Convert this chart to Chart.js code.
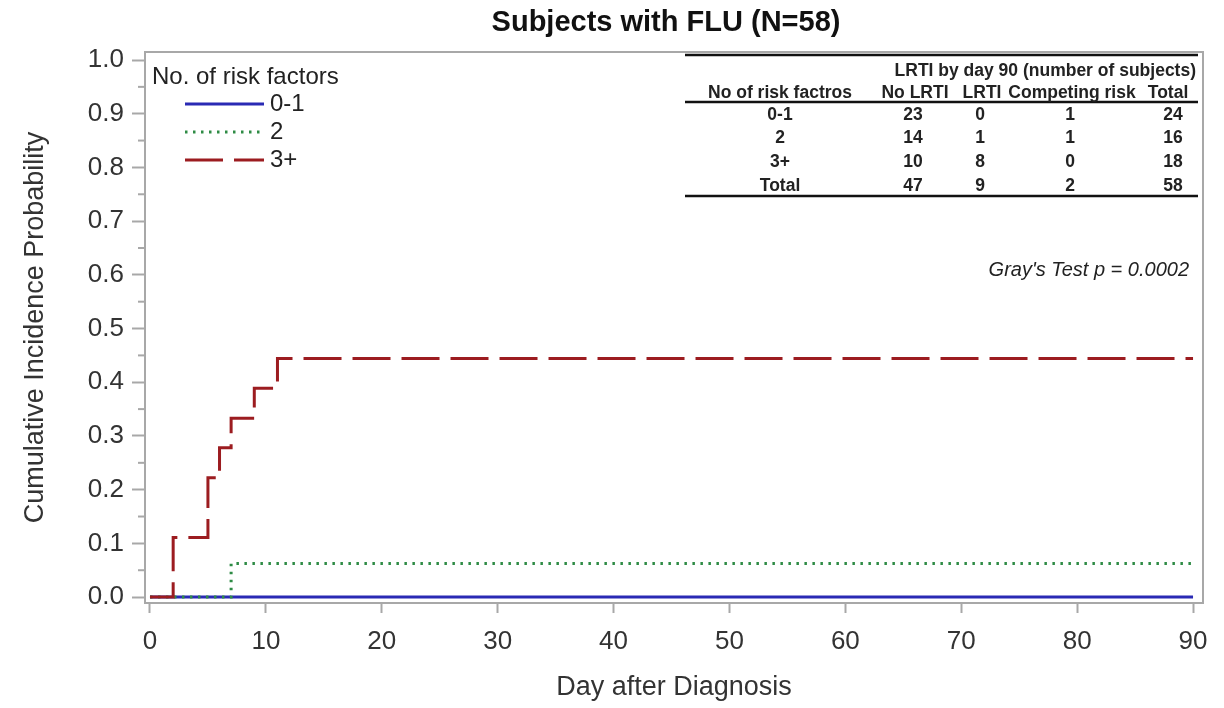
<!DOCTYPE html>
<html>
<head>
<meta charset="utf-8">
<script src="https://cdn.jsdelivr.net/npm/chart.js@4/dist/chart.umd.min.js"></script>
<style>
  body { margin: 0; background: #fff; }
  #wrap { width: 1224px; height: 708px; }
</style>
</head>
<body>
<div id="wrap"><canvas id="cif-chart" width="1224" height="708"></canvas></div>
<script>
// cumulative incidence step curves
var days01 = [0, 90];
var cif01 = [0, 0];
var days2 = [0, 7, 90];
var cif2 = [0, 0.0625, 0.0625];
var days3 = [0, 2, 5, 6, 7, 9, 11, 90];
var cif3 = [0, 0.111, 0.222, 0.278, 0.333, 0.389, 0.444, 0.444];

var xTicks = [0, 10, 20, 30, 40, 50, 60, 70, 80, 90];
var yTicks = [0.0, 0.1, 0.2, 0.3, 0.4, 0.5, 0.6, 0.7, 0.8, 0.9, 1.0];
var yMinorTicks = [0.05, 0.15, 0.25, 0.35, 0.45, 0.55, 0.65, 0.75, 0.85, 0.95];

var groups = ["0-1", "2", "3+"];

// summary table
var tableHead = ["No of risk factros", "No LRTI", "LRTI", "Competing risk", "Total"];
var tableRows = [
  ["0-1", "23", "0", "1", "24"],
  ["2", "14", "1", "1", "16"],
  ["3+", "10", "8", "0", "18"],
  ["Total", "47", "9", "2", "58"]
];

var frameColor = '#a8a8a8';
var textColor = '#333';
var fontName = '"Liberation Sans", Arial';
var colors = ['#2a2ab4', '#2e8b45', '#9c1c20'];
var dashes = [[], [2.5, 5.5], [38, 11]];

function toPoints(xs, ys) {
  return xs.map(function(x, i) { return { x: x, y: ys[i] }; });
}

var overlay = {
  id: 'overlay',
  afterDatasetsDraw: function(chart) {
    var ctx = chart.ctx;
    var a = chart.chartArea;
    var y = chart.scales.y;
    ctx.save();
    // frame
    ctx.strokeStyle = frameColor;
    ctx.lineWidth = 2;
    ctx.strokeRect(a.left, a.top, a.right - a.left, a.bottom - a.top);
    // minor y ticks
    yMinorTicks.forEach(function(v) {
      var py = y.getPixelForValue(v);
      ctx.beginPath();
      ctx.moveTo(a.left - 7, py);
      ctx.lineTo(a.left, py);
      ctx.stroke();
    });

    // title
    ctx.fillStyle = '#111';
    ctx.font = 'bold 29px ' + fontName;
    ctx.textAlign = 'center';
    ctx.textBaseline = 'middle';
    ctx.fillText('Subjects with FLU (N=58)', 666, 23);

    // legend
    ctx.fillStyle = '#222';
    ctx.font = '24px ' + fontName;
    ctx.textAlign = 'left';
    ctx.fillText('No. of risk factors', 152, 77);
    var legY = [104, 132, 160];
    groups.forEach(function(g, i) {
      ctx.strokeStyle = colors[i];
      ctx.lineWidth = 3;
      ctx.setLineDash(dashes[i]);
      ctx.beginPath();
      ctx.moveTo(185, legY[i]);
      ctx.lineTo(264, legY[i]);
      ctx.stroke();
      ctx.setLineDash([]);
      ctx.fillText(g, 270, legY[i]);
    });

    // table
    ctx.strokeStyle = '#111';
    ctx.lineWidth = 2.5;
    [55, 102, 196].forEach(function(ly) {
      ctx.beginPath();
      ctx.moveTo(685, ly);
      ctx.lineTo(1198, ly);
      ctx.stroke();
    });
    ctx.fillStyle = '#222';
    ctx.font = 'bold 17.5px ' + fontName;
    ctx.textAlign = 'right';
    ctx.fillText('LRTI by day 90 (number of subjects)', 1196, 71);
    var colX = [780, 915, 982, 1072, 1168];
    ctx.textAlign = 'center';
    tableHead.forEach(function(h, i) { ctx.fillText(h, colX[i], 93); });
    var numX = [780, 913, 980, 1070, 1173];
    var rowY = [115, 138, 162, 186];
    tableRows.forEach(function(r, j) {
      r.forEach(function(c, i) { ctx.fillText(c, numX[i], rowY[j]); });
    });

    // test result
    ctx.font = 'italic 20px ' + fontName;
    ctx.textAlign = 'right';
    ctx.fillText("Gray's Test p = 0.0002", 1189, 270);
    ctx.restore();
  }
};

var ctx = document.getElementById("cif-chart").getContext('2d');
var myChart = new Chart(ctx, {
  type: 'line',
  data: {
    datasets: [{
      label: groups[0],
      data: toPoints(days01, cif01),
      borderColor: colors[0],
      borderWidth: 3,
      order: 3
    }, {
      label: groups[1],
      data: toPoints(days2, cif2),
      borderColor: colors[1],
      borderWidth: 3,
      borderDash: dashes[1],
      order: 2
    }, {
      label: groups[2],
      data: toPoints(days3, cif3),
      borderColor: colors[2],
      borderWidth: 3,
      borderDash: dashes[2],
      order: 1
    }]
  },
  options: {
    responsive: false,
    animation: false,
    layout: { padding: { top: 52, right: 21, left: 0, bottom: 0 } },
    elements: {
      line: { stepped: 'before', fill: false, tension: 0 },
      point: { radius: 0, hoverRadius: 0 }
    },
    plugins: {
      legend: { display: false },
      tooltip: { enabled: false }
    },
    scales: {
      x: {
        type: 'linear',
        min: -0.43,
        max: 90.86,
        afterBuildTicks: function(scale) {
          scale.ticks = xTicks.map(function(v) { return { value: v }; });
        },
        afterFit: function(scale) { scale.height = 105; },
        grid: { drawOnChartArea: false, drawTicks: true, tickLength: 10, tickColor: frameColor, tickWidth: 2 },
        border: { display: false },
        ticks: {
          padding: 13,
          color: textColor,
          font: { family: fontName, size: 26 },
          maxRotation: 0,
          callback: function(v) { return String(v); }
        },
        title: {
          display: true,
          text: 'Day after Diagnosis',
          color: textColor,
          font: { family: fontName, size: 27 },
          padding: { top: 0, bottom: 4 }
        }
      },
      y: {
        min: -0.011,
        max: 1.0149,
        afterBuildTicks: function(scale) {
          scale.ticks = yTicks.map(function(v) { return { value: v }; });
        },
        afterFit: function(scale) { scale.width = 145; },
        grid: { drawOnChartArea: false, drawTicks: true, tickLength: 13, tickColor: frameColor, tickWidth: 2 },
        border: { display: false },
        ticks: {
          padding: 8,
          color: textColor,
          font: { family: fontName, size: 26 },
          callback: function(v) { return v.toFixed(1); }
        },
        title: {
          display: true,
          text: 'Cumulative Incidence Probability',
          color: textColor,
          font: { family: fontName, size: 27 },
          padding: { top: 19, bottom: 0 }
        }
      }
    }
  },
  plugins: [overlay]
});
</script>
</body>
</html>
